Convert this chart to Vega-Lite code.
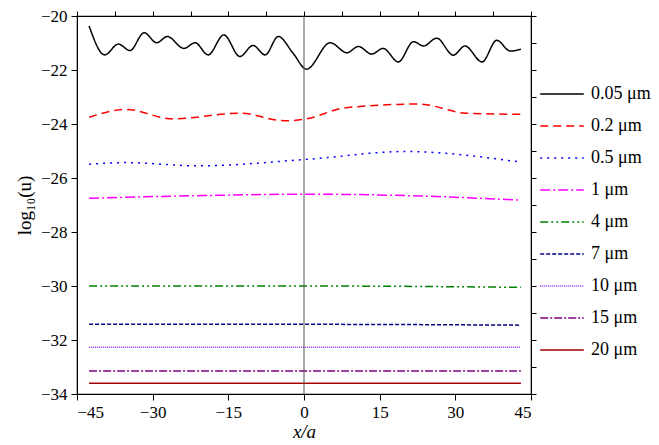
{
  "$schema": "https://vega.github.io/schema/vega-lite/v6.json",
  "width": 454,
  "height": 378,
  "autosize": "none",
  "padding": {"left": 77, "top": 16, "right": 128, "bottom": 51},
  "config": {
    "font": "Times New Roman",
    "view": {"stroke": "black", "strokeWidth": 1.2},
    "style": {"guide-label": {"font": "Times New Roman"}, "guide-title": {"font": "Times New Roman"}},
    "legend": {"labelFont": "Times New Roman"},
    "axis": {"labelFontSize": 17, "titleFontSize": 19, "titleFontWeight": "normal", "labelColor": "black", "titleColor": "black", "domainColor": "black", "tickColor": "black", "grid": false}
  },
  "resolve": {"axis": {"x": "independent", "y": "independent"}},
  "datasets": {
    "curves": [
      {"s": "0.05 μm", "x": -42.6, "y": -20.37}, {"s": "0.05 μm", "x": -39.5, "y": -21.44}, {"s": "0.05 μm", "x": -36.8, "y": -21.04}, {"s": "0.05 μm", "x": -34.5, "y": -21.28}, {"s": "0.05 μm", "x": -31.7, "y": -20.62}, {"s": "0.05 μm", "x": -29.2, "y": -20.99}, {"s": "0.05 μm", "x": -27.1, "y": -20.76}, {"s": "0.05 μm", "x": -23.8, "y": -21.2}, {"s": "0.05 μm", "x": -21.6, "y": -20.99}, {"s": "0.05 μm", "x": -19, "y": -21.44}, {"s": "0.05 μm", "x": -15.9, "y": -20.7}, {"s": "0.05 μm", "x": -12.7, "y": -21.5}, {"s": "0.05 μm", "x": -10.1, "y": -21.09}, {"s": "0.05 μm", "x": -7.7, "y": -21.44}, {"s": "0.05 μm", "x": -5.1, "y": -20.76}, {"s": "0.05 μm", "x": -2.2, "y": -21.37}, {"s": "0.05 μm", "x": 0.5, "y": -21.97}, {"s": "0.05 μm", "x": 5.2, "y": -20.99}, {"s": "0.05 μm", "x": 8.5, "y": -21.36}, {"s": "0.05 μm", "x": 10.8, "y": -21.13}, {"s": "0.05 μm", "x": 13.4, "y": -21.41}, {"s": "0.05 μm", "x": 15.7, "y": -21.2}, {"s": "0.05 μm", "x": 18.7, "y": -21.7}, {"s": "0.05 μm", "x": 21.7, "y": -20.95}, {"s": "0.05 μm", "x": 23.7, "y": -21.11}, {"s": "0.05 μm", "x": 26.3, "y": -20.82}, {"s": "0.05 μm", "x": 29.6, "y": -21.45}, {"s": "0.05 μm", "x": 31.9, "y": -21.11}, {"s": "0.05 μm", "x": 35.3, "y": -21.7}, {"s": "0.05 μm", "x": 38.2, "y": -20.9}, {"s": "0.05 μm", "x": 40.9, "y": -21.3}, {"s": "0.05 μm", "x": 43, "y": -21.23},
      {"s": "0.2 μm", "x": -42.6, "y": -23.75}, {"s": "0.2 μm", "x": -35.2, "y": -23.46}, {"s": "0.2 μm", "x": -26.1, "y": -23.81}, {"s": "0.2 μm", "x": -12.7, "y": -23.6}, {"s": "0.2 μm", "x": -3.8, "y": -23.88}, {"s": "0.2 μm", "x": 0.5, "y": -23.81}, {"s": "0.2 μm", "x": 8.2, "y": -23.4}, {"s": "0.2 μm", "x": 22.8, "y": -23.26}, {"s": "0.2 μm", "x": 32.1, "y": -23.6}, {"s": "0.2 μm", "x": 43, "y": -23.64},
      {"s": "0.5 μm", "x": -42.6, "y": -25.49}, {"s": "0.5 μm", "x": -35.4, "y": -25.43}, {"s": "0.5 μm", "x": -20.9, "y": -25.55}, {"s": "0.5 μm", "x": 0.5, "y": -25.31}, {"s": "0.5 μm", "x": 20, "y": -25.02}, {"s": "0.5 μm", "x": 42.5, "y": -25.4},
      {"s": "1 μm", "x": -42.6, "y": -26.75}, {"s": "1 μm", "x": -20, "y": -26.65}, {"s": "1 μm", "x": 0, "y": -26.6}, {"s": "1 μm", "x": 20, "y": -26.65}, {"s": "1 μm", "x": 43, "y": -26.82},
      {"s": "4 μm", "x": -42.6, "y": -30.0}, {"s": "4 μm", "x": 0, "y": -30.0}, {"s": "4 μm", "x": 43, "y": -30.05},
      {"s": "7 μm", "x": -42.6, "y": -31.42}, {"s": "7 μm", "x": 0, "y": -31.42}, {"s": "7 μm", "x": 43, "y": -31.45},
      {"s": "10 μm", "x": -42.6, "y": -32.27}, {"s": "10 μm", "x": 43, "y": -32.27},
      {"s": "15 μm", "x": -42.6, "y": -33.15}, {"s": "15 μm", "x": 43, "y": -33.15},
      {"s": "20 μm", "x": -42.6, "y": -33.6}, {"s": "20 μm", "x": 43, "y": -33.6}
    ],
    "zero": [{"x": 0}]
  },
  "layer": [
    {
      "data": {"name": "curves"},
      "mark": {"type": "line", "interpolate": "monotone", "strokeWidth": 1.5},
      "encoding": {
        "x": {"field": "x", "type": "quantitative", "title": "x/a", "scale": {"domain": [-45, 45], "nice": false},
          "axis": {"values": [-45, -30, -15, 0, 15, 30, 45], "format": "d", "tickSize": 6, "labelPadding": 4, "titleFontStyle": "italic", "titlePadding": 2, "labelFont": "Times New Roman", "titleFont": "Times New Roman"}},
        "y": {"field": "y", "type": "quantitative", "title": "log₁₀(u)", "scale": {"domain": [-34, -20], "nice": false, "zero": false},
          "axis": {"values": [-34, -32, -30, -28, -26, -24, -22, -20], "tickSize": 6, "labelPadding": 4, "titlePadding": 6, "labelFont": "Times New Roman", "titleFont": "Times New Roman"}},
        "color": {"field": "s", "type": "nominal", "sort": null,
          "scale": {"domain": ["0.05 μm", "0.2 μm", "0.5 μm", "1 μm", "4 μm", "7 μm", "10 μm", "15 μm", "20 μm"],
            "range": ["#000000", "#ff0000", "#0000ff", "#ff00ff", "#008000", "#000080", "#9933ff", "#800080", "#a00000"]},
          "legend": {"title": null, "orient": "none", "legendX": 462, "legendY": 55, "symbolType": "stroke", "symbolSize": 1900, "symbolStrokeWidth": 1.5, "labelFontSize": 18, "labelColor": "black", "rowPadding": -23, "labelOffset": 6}},
        "strokeDash": {"field": "s", "type": "nominal", "sort": null,
          "scale": {"domain": ["0.05 μm", "0.2 μm", "0.5 μm", "1 μm", "4 μm", "7 μm", "10 μm", "15 μm", "20 μm"],
            "range": [[1, 0], [8, 5], [2, 5], [10, 3, 2, 3], [8, 3, 2, 3, 2, 3], [4, 2], [1, 1], [8, 2, 2, 2], [1, 0]]},
          "legend": null}
      }
    },
    {
      "data": {"name": "zero"},
      "mark": {"type": "rule", "color": "#555555", "strokeWidth": 1},
      "encoding": {
        "x": {"field": "x", "type": "quantitative", "axis": {"orient": "top", "values": [-45, -37.5, -30, -22.5, -15, -7.5, 0, 7.5, 15, 22.5, 30, 37.5, 45], "labels": false, "title": null, "tickSize": 5}},
        "y": {"datum": -34, "type": "quantitative", "axis": {"orient": "right", "values": [-34, -33, -32, -31, -30, -29, -28, -27, -26, -25, -24, -23, -22, -21, -20], "labels": false, "title": null, "tickSize": 5}},
        "y2": {"datum": -20}
      }
    }
  ]
}
